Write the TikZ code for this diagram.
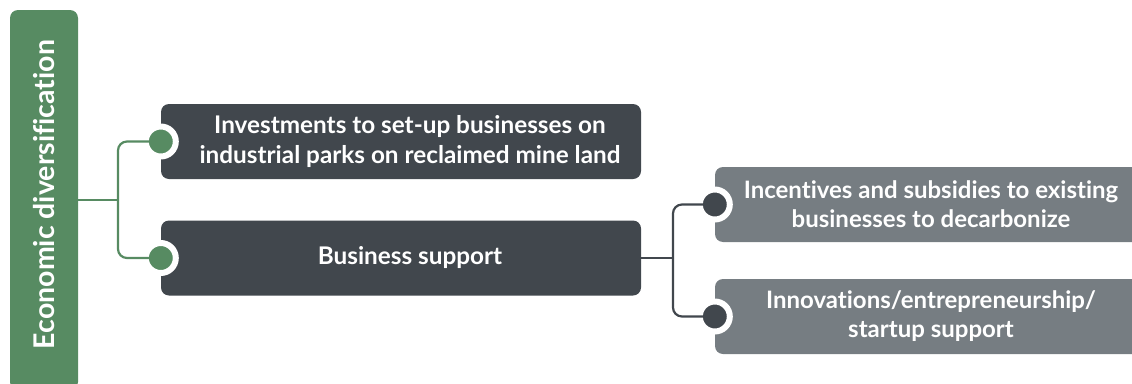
\documentclass[tikz,border=0pt]{standalone}
\usepackage{fontspec}
\setmainfont{Lato}[Ligatures=NoCommon]
\usetikzlibrary{calc}
\usetikzlibrary{positioning}

\definecolor{ecogreen}{HTML}{578B62}
\definecolor{boxdark}{HTML}{41474D}
\definecolor{boxgray}{HTML}{767D82}

\tikzset{
 darkbox/.style={fill=boxdark, rounded corners=8, minimum width=480, minimum height=75, inner sep=0},
 graybox/.style={fill=boxgray, rounded corners=8, minimum width=445, minimum height=75, inner sep=0},
 boxtext/.style={text=white, align=center, font=\bfseries\fontsize{24.3}{30}\selectfont, inner sep=0},
 smalltext/.style={text=white, align=center, font=\bfseries\fontsize{24}{29}\selectfont, inner sep=0},
 dot/.style={circle, draw=white, line width=6, minimum size=30, inner sep=0, outer sep=0},
 link/.style={line width=2.2, rounded corners=9},
}

\begin{document}
\begin{tikzpicture}[x=1pt, y=-1pt]
\useasboundingbox (0,0) rectangle (1132,383);
% left bar
\node[fill=ecogreen, rounded corners=8, minimum width=68, minimum height=380, inner sep=0] (eco) at (44,200) {};
\node[rotate=90, text=white, font=\bfseries\fontsize{28.5}{32}\selectfont, inner sep=0] (ecotext) at (44,194.5) {Economic diversification};

% first level
\node[darkbox] (b1) at (401,141.5) {};
\node[boxtext] (t1) at (410,141.5) {Investments to set-up businesses on\\industrial parks on reclaimed mine land};
\node[darkbox] (b2) at (401,258) {};
\node[boxtext] (t2) at (410,258) {Business support};

% second level
\node[graybox] (b3) at (937.5,204.5) {};
\node[smalltext] (t3) at (931,204.5) {Incentives and subsidies to existing\\businesses to decarbonize};
\node[graybox] (b4) at (937.5,316.5) {};
\node[smalltext] (t4) at (931,316.5) {Innovations/entrepreneurship/\\startup support};

% dots
\node[dot, fill=ecogreen] (d1) at (b1.west) {};
\node[dot, fill=ecogreen] (d2) at (b2.west) {};
\node[dot, fill=boxdark] (d3) at (b3.west) {};
\node[dot, fill=boxdark] (d4) at (b4.west) {};

% connectors
\coordinate (jl) at (118,200);
\coordinate (jr) at (673,258);
\draw[link, ecogreen] (eco.east |- jl) -- (jl);
\draw[link, ecogreen] (jl) |- (d1.center);
\draw[link, ecogreen] (jl) |- (d2.center);
\draw[link, boxdark] (b2.east |- jr) -- (jr);
\draw[link, boxdark] (jr) |- (d3.center);
\draw[link, boxdark] (jr) |- (d4.center);
\end{tikzpicture}
\end{document}
